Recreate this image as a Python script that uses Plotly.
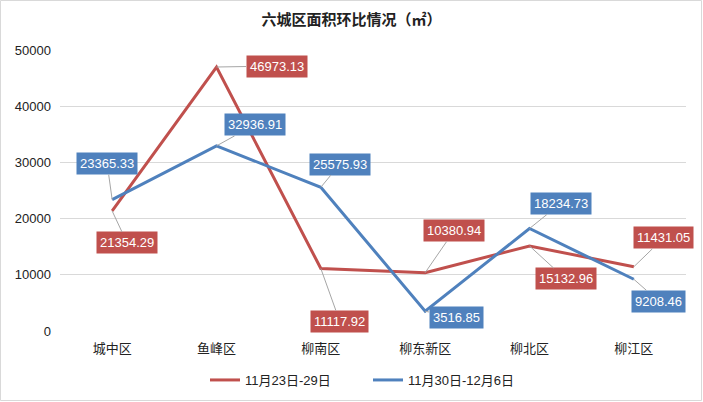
import plotly.graph_objects as go

categories = ["城中区", "鱼峰区", "柳南区", "柳东新区", "柳北区", "柳江区"]
series1_name = "11月23日-29日"
series1 = [21354.29, 46973.13, 11117.92, 10380.94, 15132.96, 11431.05]
series2_name = "11月30日-12月6日"
series2 = [23365.33, 32936.91, 25575.93, 3516.85, 18234.73, 9208.46]
y_ticks = [0, 10000, 20000, 30000, 40000, 50000]

# label offsets (pixels) for data-label boxes
off1 = [(15, 32), (60, -1), (19, 53), (29, -42), (36, 33), (30, -29)]
off2 = [(-5, -36), (38, -21), (19, -23), (31, 6), (31, -25), (25, 22)]

RED = "#C0504D"
BLUE = "#4F81BD"
FONT = "Liberation Sans, Noto Sans CJK SC, sans-serif"

fig = go.Figure()
fig.add_trace(go.Scatter(x=categories, y=series1, mode="lines", name=series1_name,
                         line=dict(color=RED, width=3)))
fig.add_trace(go.Scatter(x=categories, y=series2, mode="lines", name=series2_name,
                         line=dict(color=BLUE, width=3)))

annotations = []
for vals, offs, col in [(series1, off1, RED), (series2, off2, BLUE)]:
    for c, v, (ax, ay) in zip(categories, vals, offs):
        annotations.append(dict(
            x=c, y=v, xref="x", yref="y", text=f"{v:.2f}",
            showarrow=True, arrowhead=0, arrowwidth=1, arrowcolor="#A6A6A6",
            ax=ax, ay=ay, bgcolor=col, borderpad=3,
            font=dict(color="white", size=13, family=FONT)))

L, R, T, B = 60, 17, 50, 71
W, H = 703, 402
pw, ph = W - L - R, H - T - B

fig.update_layout(
    width=W, height=H,
    margin=dict(l=L, r=R, t=T, b=B, autoexpand=False),
    paper_bgcolor="white", plot_bgcolor="white",
    font=dict(family=FONT, size=13, color="#222222"),
    title=dict(text="<b>六城区面积环比情况（㎡）</b>", x=0.5, xanchor="center",
               y=1 - 20 / H, yanchor="middle",
               font=dict(size=15, color="#222222", family="Noto Sans CJK SC, sans-serif")),
    xaxis=dict(showgrid=False, showline=False, ticks="", zeroline=False,
               range=[-0.5, 5.5], tickfont=dict(size=13), ticklabelstandoff=8,
               automargin=False),
    yaxis=dict(range=[0, 50000], tickvals=y_ticks, tickformat="d", showgrid=True,
               gridcolor="#D9D9D9", gridwidth=1, zeroline=False, showline=False,
               ticks="", tickfont=dict(size=13), ticklabelstandoff=8, automargin=False),
    legend=dict(orientation="h", x=(205 - L) / pw, xanchor="left",
                yref="container", y=(H - 380) / H, yanchor="middle",
                font=dict(size=13), itemwidth=30, entrywidth=118,
                traceorder="normal"),
    showlegend=True,
    annotations=annotations,
    shapes=[dict(type="rect", xref="paper", yref="paper",
                 x0=-(L - 0.5) / pw, x1=1 + (R - 1.5) / pw,
                 y0=-(B - 1.5) / ph, y1=1 + (T - 0.5) / ph,
                 line=dict(color="#D9D9D9", width=1), fillcolor="rgba(0,0,0,0)",
                 layer="below")],
)

fig.write_html("out.html")
